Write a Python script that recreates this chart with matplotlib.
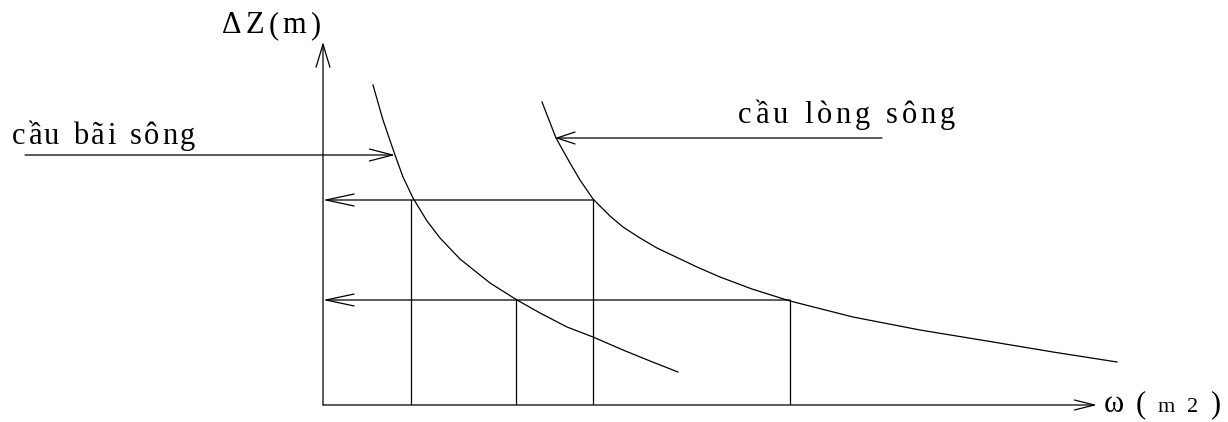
import matplotlib
matplotlib.use('Agg')
import matplotlib.pyplot as plt

# Toa do lay theo pixel cua hinh goc (1228 x 422), truc y quay xuong
W, H = 1228, 422

# truc toa do
goc = (323, 405)
dinh_truc_z = (323, 42)
dinh_truc_w = (1097, 405)

# duong cong cau bai song
bai_song_x = [373, 383, 395, 403, 413, 427, 440, 460, 490, 517, 540, 567, 593, 623, 650, 678]
bai_song_y = [85, 120, 155, 177, 198, 221, 238, 259, 283, 300, 313, 327, 337, 350, 361, 372]

# duong cong cau long song
long_song_x = [542, 556, 570, 580, 593, 610, 623, 640, 657, 697, 720, 752, 790, 853, 920, 987, 1053, 1117]
long_song_y = [102, 138, 163, 180, 199, 216, 227, 238, 248, 267, 277, 289, 301, 317, 330, 341, 352, 362]

# hai muc dZ: duong ngang tu diem tren duong cong ve truc dZ
muc_dz = [200, 300]
muc_w = [594, 790]

# cac duong dung xuong truc w
dung_x = [411, 593, 516, 790]
dung_y = [200, 200, 300, 300]

# mui ten chu thich
bai_song_mui_ten = [(25, 155), (395, 155)]
long_song_mui_ten = [(882, 138), (555, 138)]

FONT = ['Liberation Serif', 'DejaVu Serif']
LW = 0.9

fig = plt.figure(figsize=(W / 100, H / 100), dpi=100)
ax = fig.add_axes([0, 0, 1, 1])
ax.set_xlim(0, W)
ax.set_ylim(H, 0)
ax.axis('off')


def mui_ten(p0, p1, dai, rong):
    # dai, rong tinh bang pixel; mutation_scale tinh theo point
    ms = 10
    px = ms * 100 / 72
    ax.annotate('', xy=p1, xytext=p0,
                arrowprops=dict(arrowstyle='->,head_length=%.2f,head_width=%.2f' % (dai / px, rong / px),
                                mutation_scale=ms, lw=LW, color='black', shrinkA=0, shrinkB=0))


# truc
mui_ten(goc, dinh_truc_z, 23, 7)
mui_ten(goc, dinh_truc_w, 20, 5)

# duong cong
ax.plot(bai_song_x, bai_song_y, color='black', lw=LW)
ax.plot(long_song_x, long_song_y, color='black', lw=LW)

# duong ngang co mui ten ve truc dZ
for y, x in zip(muc_dz, muc_w):
    mui_ten((x, y), (goc[0], y), 28, 6)

# duong dung
for x, y in zip(dung_x, dung_y):
    ax.plot([x, x], [y, goc[1] - 1], color='black', lw=LW)

# mui ten chu thich
mui_ten(bai_song_mui_ten[0], bai_song_mui_ten[1], 23, 6)
mui_ten(long_song_mui_ten[0], long_song_mui_ten[1], 18, 6)

fig.canvas.draw()
renderer = fig.canvas.get_renderer()


def chu_gian(x0, x1, y, phan):
    # ve chu gian cach deu cho khop be rong cua hinh goc
    items = []
    for s, size in phan:
        for ch in s:
            t = ax.text(0, y, ch, fontsize=size, family=FONT, va='baseline', ha='left')
            w = t.get_window_extent(renderer).width
            if ch == ' ':
                w = size * 0.3 * 100 / 72
            items.append((t, w))
    tong = sum(w for _, w in items)
    gap = (x1 - x0 - tong) / (len(items) - 1)
    x = x0
    for t, w in items:
        t.set_x(x)
        x += w + gap


chu_gian(222, 320, 33, [('ΔZ(m)', 22)])
chu_gian(12, 195, 144, [('cầu bãi sông', 22)])
chu_gian(738, 955, 123, [('cầu lòng sông', 22)])
chu_gian(1104, 1220, 412, [('ω(', 22), ('m2', 16), (')', 22)])

fig.savefig('out.png', dpi=100)
